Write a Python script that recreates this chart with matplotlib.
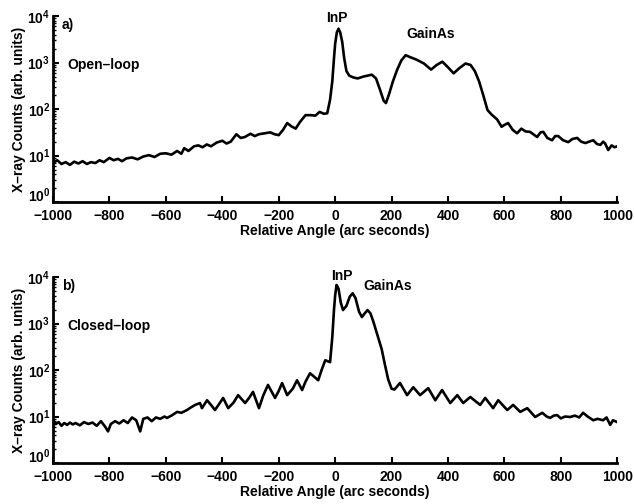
"""
X-ray rocking curves, open-loop vs closed-loop growth.
"""

import numpy as np
import matplotlib.pyplot as plt
from matplotlib.ticker import LogLocator, NullFormatter

# relative angle (arc seconds) and log10 of counts
angle_a = [-1000, -985, -970, -955, -940, -925, -910, -895, -880, -865, -850, -835, -820,
           -800, -785, -770, -755, -740, -720, -700, -680, -660, -640, -620, -600, -580,
           -560, -545, -535, -520, -500, -485, -470, -455, -440, -420, -400, -385, -370,
           -350, -335, -320, -300, -285, -270, -250, -230, -215, -200, -185, -170, -155,
           -140, -125, -105, -85, -70, -55, -40, -28, -18, -10, -4, 0, 6, 12, 18, 25, 32,
           40, 50, 65, 80, 100, 115, 130, 145, 160, 172, 180, 190, 205, 220, 235, 250, 265,
           290, 315, 340, 360, 380, 400, 420, 440, 462, 480, 495, 510, 525, 540, 555, 574,
           590, 600, 613, 630, 645, 660, 675, 691, 705, 716, 728, 738, 752, 769, 780, 791,
           808, 826, 842, 858, 872, 887, 900, 915, 928, 940, 950, 957, 968, 980, 990, 1000]
logc_a = [0.84, 0.90, 0.82, 0.86, 0.80, 0.87, 0.83, 0.88, 0.82, 0.86, 0.84, 0.90, 0.86,
          0.95, 0.90, 0.93, 0.88, 0.94, 0.96, 0.92, 0.98, 1.01, 0.97, 1.04, 1.05, 1.02,
          1.10, 1.04, 1.16, 1.10, 1.20, 1.22, 1.18, 1.24, 1.20, 1.28, 1.32, 1.26, 1.30,
          1.46, 1.38, 1.40, 1.47, 1.42, 1.46, 1.48, 1.50, 1.46, 1.44, 1.55, 1.70, 1.63,
          1.58, 1.72, 1.87, 1.87, 1.86, 1.94, 1.90, 1.91, 2.20, 2.60, 3.10, 3.40, 3.65,
          3.73, 3.65, 3.45, 3.10, 2.82, 2.72, 2.68, 2.66, 2.70, 2.72, 2.74, 2.66, 2.40,
          2.18, 2.13, 2.30, 2.60, 2.85, 3.05, 3.16, 3.12, 3.06, 2.98, 2.85, 2.95, 3.02,
          2.90, 2.77, 2.88, 2.98, 2.95, 2.82, 2.60, 2.30, 1.98, 1.88, 1.78, 1.62, 1.66,
          1.70, 1.55, 1.48, 1.58, 1.52, 1.51, 1.45, 1.40, 1.50, 1.51, 1.38, 1.33, 1.42,
          1.42, 1.33, 1.29, 1.36, 1.38, 1.30, 1.27, 1.30, 1.33, 1.25, 1.23, 1.30, 1.26,
          1.12, 1.22, 1.18, 1.20]

angle_b = [-1000, -990, -980, -970, -960, -950, -940, -930, -920, -905, -890, -875, -860,
           -845, -830, -815, -805, -795, -780, -765, -750, -735, -720, -705, -691, -680,
           -665, -650, -635, -620, -605, -596, -580, -560, -545, -525, -510, -496, -479,
           -472, -454, -440, -426, -410, -397, -379, -360, -344, -319, -305, -291, -270,
           -255, -238, -213, -200, -188, -170, -150, -135, -117, -105, -89, -75, -60, -48,
           -35, -18, -10, -4, 0, 5, 12, 20, 28, 40, 52, 62, 72, 85, 95, 105, 115, 125, 135,
           150, 165, 177, 188, 200, 210, 230, 255, 277, 301, 330, 355, 379, 408, 433, 454,
           479, 514, 532, 560, 578, 610, 631, 656, 681, 709, 734, 750, 762, 775, 787, 800,
           815, 833, 850, 865, 879, 895, 915, 930, 950, 962, 975, 985, 1000]
logc_b = [0.92, 0.84, 0.88, 0.80, 0.86, 0.82, 0.87, 0.83, 0.86, 0.81, 0.88, 0.84, 0.87,
          0.80, 0.90, 0.78, 0.68, 0.84, 0.90, 0.85, 0.92, 0.86, 0.98, 0.92, 0.68, 0.95,
          0.98, 0.90, 0.98, 0.95, 1.00, 0.97, 1.02, 1.10, 1.08, 1.14, 1.20, 1.25, 1.29,
          1.18, 1.35, 1.25, 1.14, 1.28, 1.40, 1.18, 1.30, 1.46, 1.29, 1.40, 1.53, 1.18,
          1.45, 1.68, 1.40, 1.55, 1.72, 1.46, 1.60, 1.78, 1.57, 1.75, 1.93, 1.86, 1.78,
          2.00, 2.21, 2.17, 2.71, 3.30, 3.60, 3.83, 3.75, 3.45, 3.29, 3.38, 3.58, 3.65,
          3.55, 3.25, 3.14, 3.22, 3.29, 3.22, 3.05, 2.75, 2.45, 2.10, 1.80, 1.60, 1.58,
          1.72, 1.46, 1.63, 1.46, 1.61, 1.35, 1.57, 1.29, 1.46, 1.29, 1.42, 1.25, 1.40,
          1.18, 1.35, 1.14, 1.25, 1.10, 1.18, 0.99, 1.08, 1.00, 0.97, 1.02, 1.03, 0.96,
          1.00, 0.99, 1.02, 0.98, 1.08, 1.00, 0.92, 0.95, 0.92, 0.98, 0.82, 0.92, 0.88]

xticks = [-1000, -800, -600, -400, -200, 0, 200, 400, 600, 800, 1000]
yticks = [1, 10, 100, 1000, 10000]

plt.rcParams['font.family'] = ['Liberation Sans', 'DejaVu Sans']
plt.rcParams['font.weight'] = 'bold'
plt.rcParams['axes.labelweight'] = 'bold'
plt.rcParams['mathtext.default'] = 'bf'

fig = plt.figure(figsize=(6.34, 5.04), dpi=100)
ax_a = fig.add_axes([0.0836, 0.599, 0.890, 0.369])
ax_b = fig.add_axes([0.0836, 0.0813, 0.890, 0.369])

panels = [(ax_a, angle_a, logc_a, 'a)', 'Open\u2013loop', (5, 3.96), (337, 3.61)),
          (ax_b, angle_b, logc_b, 'b)', 'Closed\u2013loop', (25, 4.02), (188, 3.80))]

for ax, x, lc, tag, mode, inp_pos, ga_pos in panels:
    ax.plot(x, np.power(10.0, lc), color='black', lw=1.9, solid_joinstyle='round')
    ax.set_yscale('log')
    ax.set_xlim(-1000, 1000)
    ax.set_ylim(1, 1e4)
    ax.set_xticks(xticks)
    ax.set_yticks(yticks)
    ax.yaxis.set_minor_locator(LogLocator(base=10, subs=np.arange(2, 10), numticks=10))
    ax.yaxis.set_minor_formatter(NullFormatter())
    ax.spines['top'].set_visible(False)
    ax.spines['right'].set_visible(False)
    ax.spines['left'].set_linewidth(2.0)
    ax.spines['bottom'].set_linewidth(2.0)
    ax.tick_params(axis='both', which='major', direction='in', length=4, width=1.5,
                   labelsize=10)
    ax.tick_params(axis='x', which='major', pad=5)
    ax.tick_params(axis='y', which='major', pad=2)
    ax.tick_params(axis='y', which='minor', direction='in', length=2.5, width=1.0)
    # lift the bottom decade label a little so it clears the -1000 label
    ax.get_yticklabels()[0].set_verticalalignment('baseline')
    ax.set_xlabel('Relative Angle (arc seconds)', fontsize=10, labelpad=1)
    ax.set_ylabel('X\u2013ray Counts (arb. units)', fontsize=10, labelpad=1)
    ax.text(-968, 10**3.8, tag, fontsize=10, va='center', ha='left')
    ax.text(-950, 10**2.95, mode, fontsize=10, va='center', ha='left')
    ax.text(inp_pos[0], 10**inp_pos[1], 'InP', fontsize=10, va='center', ha='center')
    ax.text(ga_pos[0], 10**ga_pos[1], 'GainAs', fontsize=10, va='center', ha='center')

fig.savefig('out.png', dpi=100)
